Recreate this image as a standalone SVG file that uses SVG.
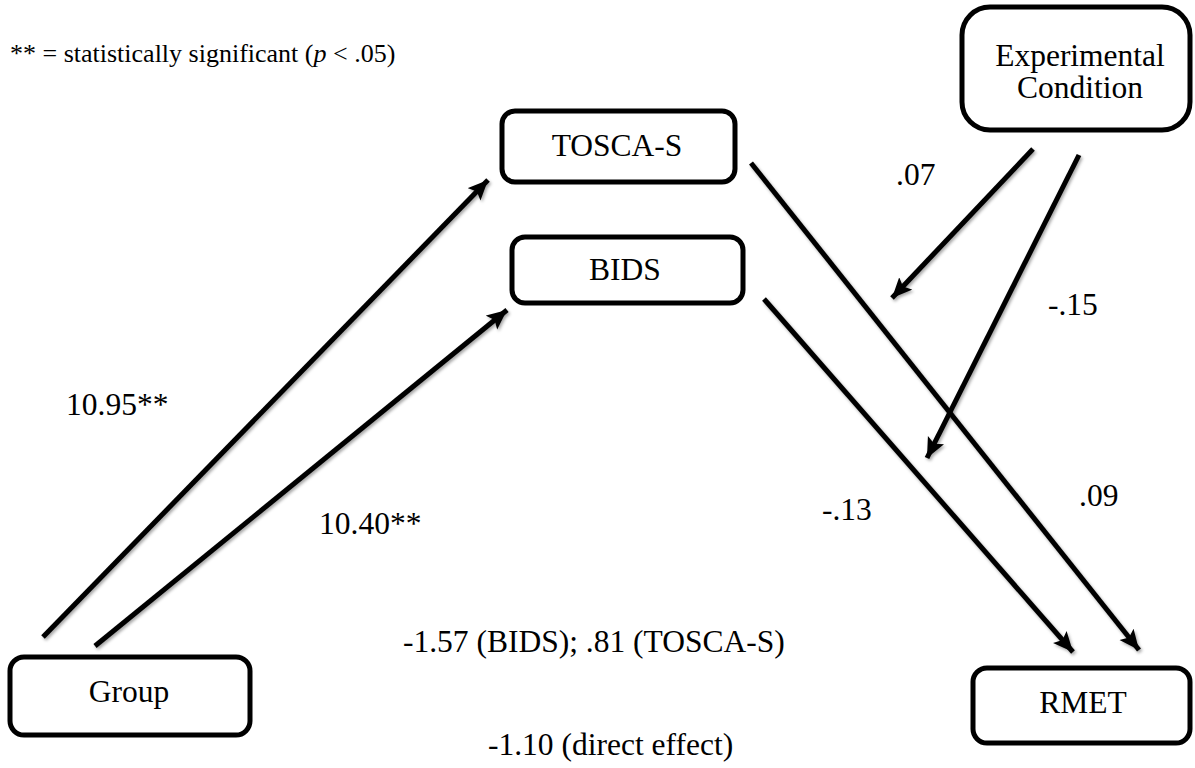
<svg xmlns="http://www.w3.org/2000/svg" width="1195" height="768" viewBox="0 0 1195 768">
<style>
  .box { fill: #ffffff; stroke: #000000; stroke-width: 5; }
  .lbl { font-size: 31.5px; fill: #000000; }
  .node { font-size: 31.5px; fill: #000000; text-anchor: middle; }
  .legend { font-size: 26px; fill: #000000; }
  .edge { stroke: #000000; stroke-width: 5; fill: none; filter: url(#shadow); }
</style>
<defs>
  <filter id="shadow" x="-10%" y="-10%" width="120%" height="120%">
    <feDropShadow dx="1.5" dy="2" stdDeviation="1.5" flood-color="#000000" flood-opacity="0.35"/>
  </filter>
  <marker id="tri" markerUnits="userSpaceOnUse" markerWidth="24" markerHeight="20" refX="20" refY="9" orient="auto">
    <path d="M0,0 L20,9 L0,18 L4,9 Z" fill="#000000"/>
  </marker>
  <marker id="open" markerUnits="userSpaceOnUse" markerWidth="26" markerHeight="30" refX="22" refY="14" orient="auto">
    <path d="M4,3 L21,14 L4,25" fill="none" stroke="#000000" stroke-width="5" stroke-linecap="round" stroke-linejoin="round"/>
  </marker>
</defs>
<rect width="1195" height="768" fill="#ffffff"/>

<g font-family="'Liberation Serif', Tinos, 'DejaVu Serif', serif">
<text class="legend" x="10" y="62">** = statistically significant (<tspan font-style="italic">p</tspan> &lt; .05)</text>

<g id="connectors">
  <line class="edge" x1="43" y1="637" x2="488" y2="180" marker-end="url(#tri)"/>
  <line class="edge" x1="95" y1="646" x2="507" y2="310" marker-end="url(#tri)"/>
  <line class="edge" x1="751" y1="163" x2="1139" y2="650" marker-end="url(#tri)"/>
  <line class="edge" x1="764" y1="299" x2="1073" y2="652" marker-end="url(#tri)"/>
  <line class="edge" x1="1033" y1="149" x2="892" y2="298" marker-end="url(#tri)"/>
  <line class="edge" x1="1079" y1="155" x2="927" y2="458" marker-end="url(#tri)"/>
  <line class="edge" x1="266" y1="705" x2="950" y2="705" marker-end="url(#open)"/>
</g>

<g id="edge-labels">
  <text class="lbl" x="66" y="415">10.95**</text>
  <text class="lbl" x="319" y="534">10.40**</text>
  <text class="lbl" x="896" y="185">.07</text>
  <text class="lbl" x="1048" y="315">-.15</text>
  <text class="lbl" x="822" y="520">-.13</text>
  <text class="lbl" x="1079" y="506">.09</text>
  <text class="lbl" x="403" y="652">-1.57 (BIDS); .81 (TOSCA-S)</text>
  <text class="lbl" x="488" y="755">-1.10 (direct effect)</text>
</g>

<g id="node-tosca">
  <rect class="box" x="502" y="111" width="233" height="71" rx="13"/>
  <text class="node" x="617" y="156">TOSCA-S</text>
</g>
<g id="node-bids">
  <rect class="box" x="512" y="237" width="231" height="66" rx="13"/>
  <text class="node" x="625" y="280">BIDS</text>
</g>
<g id="node-exp">
  <rect class="box" x="962" y="7" width="228" height="123" rx="28"/>
  <text class="node" x="1080" y="66">Experimental</text>
  <text class="node" x="1080" y="98">Condition</text>
</g>
<g id="node-group">
  <rect class="box" x="10" y="657" width="240" height="78" rx="14"/>
  <text class="node" x="129" y="702">Group</text>
</g>
<g id="node-rmet">
  <rect class="box" x="973" y="668" width="217" height="75" rx="14"/>
  <text class="node" x="1083" y="713">RMET</text>
</g>
</g>
</svg>
